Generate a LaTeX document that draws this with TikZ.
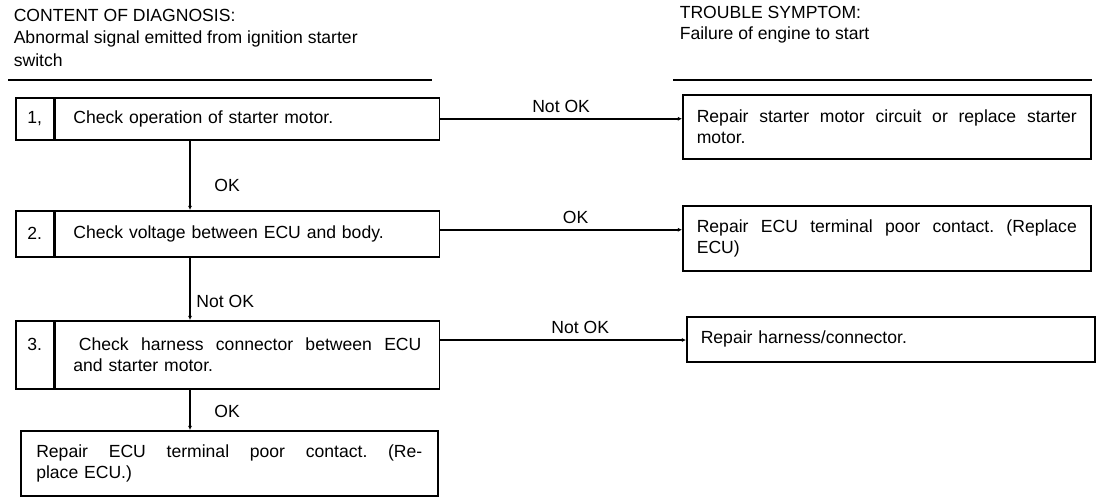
\documentclass[tikz,border=0pt]{standalone}
\usepackage{fontspec}
\setmainfont{Liberation Sans}
\usetikzlibrary{arrows.meta}

\newcommand{\fullline}[2]{\makebox[#1][s]{\frenchspacing\spaceskip=0pt\xspaceskip=0pt #2}}

\begin{document}
\begin{tikzpicture}[x=0.025cm, y=-0.025cm, line width=1.1pt,
    font=\fontsize{12.5}{15}\selectfont,
    numcell/.style={draw, anchor=north west, minimum width=0.95cm, inner sep=0pt, align=center},
    stepbox/.style={draw, anchor=north west, minimum width=9.6cm, text width=8.7cm, inner xsep=0.3cm, align=left},
    fixbox/.style={draw, anchor=north west, minimum width=10.2cm, text width=9.5cm, inner xsep=0.3cm, align=left},
    hdr/.style={anchor=north west, align=left, inner sep=0pt, font=\fontsize{12.5}{16}\selectfont},
    lbl/.style={inner sep=4pt},
    flow/.style={-{Latex[length=3pt,width=3pt]}}]

    \useasboundingbox (0,0) rectangle (1105,500);

    % headings
    \node[hdr] (cont) at (13,8) {CONTENT OF DIAGNOSIS:\\Abnormal signal emitted from ignition starter\\switch};
    \node[hdr, font=\fontsize{12.5}{15}\selectfont] (symp) at (679,5) {TROUBLE SYMPTOM:\\Failure of engine to start};
    \draw (8,80) -- (432,80);
    \draw (673,80) -- (1092,80);

    % check steps
    \node[numcell, minimum height=1.05cm] (n1) at (15,97) {1,};
    \node[stepbox, minimum height=1.05cm] (s1) at (n1.north east) {Check operation of starter motor.};
    \node[numcell, minimum height=1.15cm] (n2) at (15,210) {2.};
    \node[stepbox, minimum height=1.15cm] (s2) at (n2.north east) {Check voltage between ECU and body.};
    \node[numcell, minimum height=1.7cm] (n3) at (15,320) {3.\\\mbox{}};
    \node[stepbox, minimum height=1.7cm] (s3) at (n3.north east)
        {\fullline{8.7cm}{\hspace*{4pt}Check harness connector between ECU}\\and starter motor.};
    \node[draw, anchor=north west, minimum width=10.425cm, text width=9.65cm, inner xsep=0.3cm, align=left,
          minimum height=1.625cm] (s4) at (20,430)
        {\fullline{9.65cm}{Repair ECU terminal poor contact. (Re-}\\place ECU.)};

    % repairs
    \node[fixbox, minimum height=1.6cm] (r1) at (682,94)
        {\fullline{9.5cm}{Repair starter motor circuit or replace starter}\\motor.};
    \node[fixbox, minimum height=1.625cm] (r2) at (682,205)
        {\fullline{9.5cm}{Repair ECU terminal poor contact. (Replace}\\ECU)};
    \node[fixbox, minimum height=1.125cm] (r3) at (686,316) {Repair harness/connector.};

    \coordinate (vx) at (190,0);

    \draw[flow] (s1.east) -- (s1.east -| r1.west) node[lbl, midway, above] {Not OK};
    \draw[flow] ([yshift=0.1cm]s2.east) -- ([yshift=0.1cm]s2.east -| r2.west) node[lbl, pos=0.56, above] {OK};
    \draw[flow] ([yshift=-0.5cm]s3.north east) -- ([yshift=-0.5cm]s3.north east -| r3.west) node[lbl, pos=0.57, above] {Not OK};

    \draw[flow] (s1.south -| vx) -- (s2.north -| vx) node[lbl, pos=0.65, right, xshift=0.45cm] {OK};
    \draw[flow] (s2.south -| vx) -- (s3.north -| vx) node[lbl, pos=0.7, right] {Not OK};
    \draw[flow] (s3.south -| vx) -- (s4.north -| vx) node[lbl, pos=0.55, right, xshift=0.45cm] {OK};
\end{tikzpicture}
\end{document}
